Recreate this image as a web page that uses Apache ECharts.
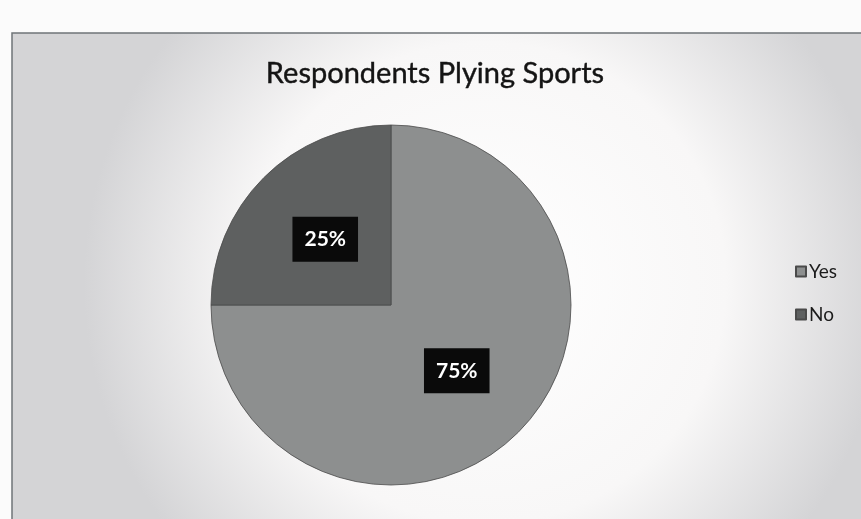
<!DOCTYPE html>
<html>
<head>
<meta charset="utf-8">
<script src="https://cdn.jsdelivr.net/npm/echarts@6/dist/echarts.min.js"></script>
<style>
html,body{margin:0;padding:0;background:#fbfbfb;}
#chart{width:861px;height:519px;}
</style>
</head>
<body>
<div id="chart"></div>
<script>
const categories = ['Yes', 'No'];
const values = [75, 25];
const sliceColors = ['#8d8f8f', '#5e6060'];
const titleText = 'Respondents Plying Sports';

const chart = echarts.init(document.getElementById('chart'));
chart.setOption({
  backgroundColor: '#fbfbfb',
  graphic: [{
    type: 'rect',
    z: -10,
    silent: true,
    shape: { x: 12, y: 33, width: 860, height: 500 },
    style: {
      fill: new echarts.graphic.RadialGradient(0.55, 0.5, 0.8, [
        { offset: 0, color: '#ffffff' },
        { offset: 0.6, color: '#f8f7f7' },
        { offset: 1, color: '#d4d4d6' }
      ]),
      stroke: '#6f7478',
      lineWidth: 1.5
    }
  }],
  title: {
    text: titleText,
    left: 430,
    top: 54,
    textAlign: 'center',
    textStyle: { fontFamily: 'Lato', fontSize: 29, fontWeight: 'normal', color: '#141414', textBorderColor: '#141414', textBorderWidth: 0.4 }
  },
  legend: {
    orient: 'vertical',
    left: 790,
    top: 257,
    itemWidth: 10,
    itemHeight: 10,
    itemGap: 24,
    icon: 'rect',
    data: categories,
    textStyle: { fontFamily: 'Lato', fontSize: 19, color: '#1c1c1c', padding: [0, 0, 0, -2] }
  },
  series: [{
    type: 'pie',
    center: [391, 305],
    radius: 180,
    startAngle: 90,
    clockwise: true,
    avoidLabelOverlap: false,
    itemStyle: { borderColor: '#4a4a4a', borderWidth: 0.8 },
    label: {
      show: true,
      position: 'inside',
      formatter: '{d}%',
      backgroundColor: '#0a0a0a',
      color: '#ffffff',
      fontFamily: 'Lato',
      fontWeight: 'bold',
      fontSize: 21,
      padding: [12, 12, 12, 12]
    },
    labelLine: { show: false },
    emphasis: { disabled: true },
    data: categories.map((c, i) => ({ name: c, value: values[i], itemStyle: { color: sliceColors[i] } }))
  }]
});
</script>
</body>
</html>
